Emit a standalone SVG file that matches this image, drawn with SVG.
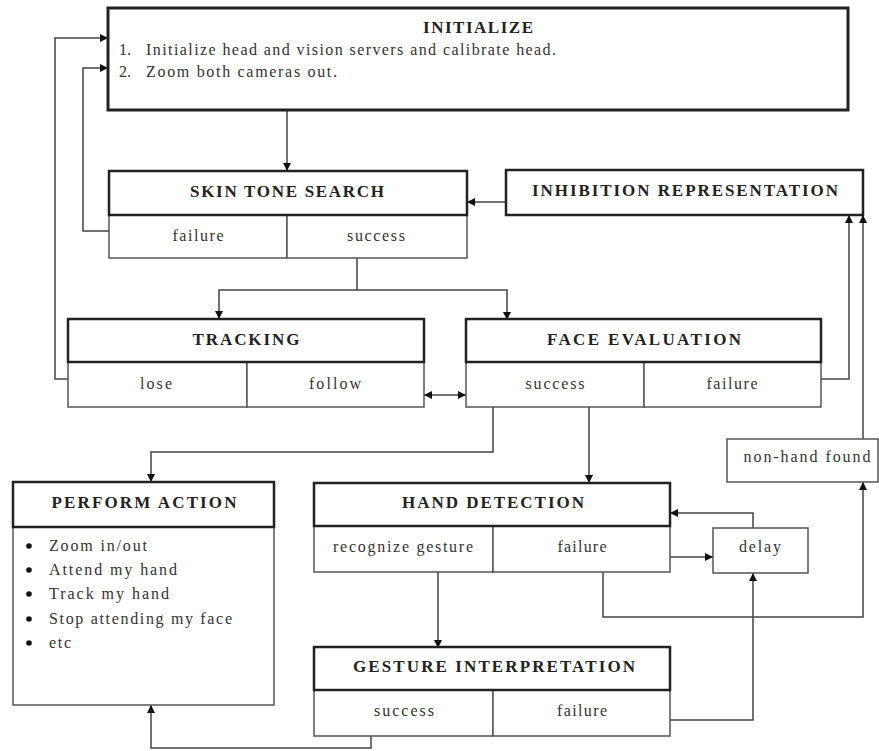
<svg xmlns="http://www.w3.org/2000/svg" width="879" height="751" viewBox="0 0 879 751">
<style>
.hdr{fill:#fff;stroke:#222;stroke-width:2.5}
.cell{fill:#fff;stroke:#555;stroke-width:1.5}
.box{fill:#fff;stroke:#555;stroke-width:1.5}
.t{font-family:"Liberation Serif","Times New Roman",serif;font-weight:bold;font-size:17px;fill:#222;text-anchor:middle}
.b{font-family:"Liberation Serif","Times New Roman",serif;font-size:16px;fill:#333;text-anchor:middle}
.l{font-family:"Liberation Serif","Times New Roman",serif;font-size:16px;fill:#333}
.c{fill:none;stroke:#444;stroke-width:1.5}
.a{marker-end:url(#ah)}
</style>
<defs>
<marker id="ah" viewBox="0 0 10 10" refX="10" refY="5" markerWidth="8" markerHeight="8" markerUnits="userSpaceOnUse" orient="auto-start-reverse">
<path d="M0,0 L10,5 L0,10 z" fill="#111"/>
</marker>
</defs>
<rect width="879" height="751" fill="#fff"/>

<g id="connectors">
<path class="c a" d="M287,110 V171"/>
<path class="c a" d="M109,231 H83 V68 H108"/>
<path class="c a" d="M68,379 H55 V38 H108"/>
<path class="c a" d="M506,202 H467"/>
<path class="c a" d="M357,258 V290 H219 V319"/>
<path class="c a" d="M357,290 H507 V320"/>
<path class="c a" d="M424,395 H466" marker-start="url(#ah)"/>
<path class="c a" d="M821,379 H849 V215"/>
<path class="c a" d="M863,439 V215"/>
<path class="c a" d="M493,407 V452 H151 V482"/>
<path class="c a" d="M589,407 V483"/>
<path class="c a" d="M670,557 H713"/>
<path class="c a" d="M753,528 V513 H670"/>
<path class="c a" d="M603,572 V617 H863 V482"/>
<path class="c a" d="M438,572 V648"/>
<path class="c a" d="M670,720 H753 V573"/>
<path class="c a" d="M371,736 V748 H151 V705"/>
</g>

<g id="initialize">
<rect x="108" y="8" width="740" height="102" fill="#fff" stroke="#222" stroke-width="3"/>
<text class="t" x="478" y="33" textLength="110" lengthAdjust="spacing">INITIALIZE</text>
<text class="l" x="119" y="55">1.</text>
<text class="l" x="146" y="55" textLength="410" lengthAdjust="spacing">Initialize head and vision servers and calibrate head.</text>
<text class="l" x="119" y="77">2.</text>
<text class="l" x="146" y="77" textLength="191" lengthAdjust="spacing">Zoom both cameras out.</text>
</g>

<g id="skin-tone-search">
<rect class="cell" x="109" y="215" width="178" height="43"/>
<rect class="cell" x="287" y="215" width="180" height="43"/>
<rect class="hdr" x="109" y="171" width="358" height="44"/>
<text class="t" x="287" y="197" textLength="194" lengthAdjust="spacing">SKIN TONE SEARCH</text>
<text class="b" x="198" y="241" textLength="51" lengthAdjust="spacing">failure</text>
<text class="b" x="376" y="241" textLength="58" lengthAdjust="spacing">success</text>
</g>

<g id="inhibition-representation">
<rect class="hdr" x="506" y="170" width="357" height="45"/>
<text class="t" x="685" y="196" textLength="306" lengthAdjust="spacing">INHIBITION REPRESENTATION</text>
</g>

<g id="tracking">
<rect class="cell" x="68" y="362" width="179" height="45"/>
<rect class="cell" x="247" y="362" width="177" height="45"/>
<rect class="hdr" x="68" y="319" width="356" height="43"/>
<text class="t" x="246" y="345" textLength="107" lengthAdjust="spacing">TRACKING</text>
<text class="b" x="156" y="389" textLength="32" lengthAdjust="spacing">lose</text>
<text class="b" x="335" y="389" textLength="52" lengthAdjust="spacing">follow</text>
</g>

<g id="face-evaluation">
<rect class="cell" x="466" y="362" width="178" height="45"/>
<rect class="cell" x="644" y="362" width="177" height="45"/>
<rect class="hdr" x="466" y="319" width="355" height="43"/>
<text class="t" x="644" y="345" textLength="194" lengthAdjust="spacing">FACE EVALUATION</text>
<text class="b" x="555" y="389" textLength="59" lengthAdjust="spacing">success</text>
<text class="b" x="732" y="389" textLength="51" lengthAdjust="spacing">failure</text>
</g>

<g id="non-hand-found">
<rect class="box" x="727" y="439" width="151" height="43"/>
<text class="b" x="807" y="462" textLength="127" lengthAdjust="spacing">non-hand found</text>
</g>

<g id="perform-action">
<rect class="cell" x="13" y="527" width="261" height="178"/>
<rect class="hdr" x="13" y="482" width="261" height="45"/>
<text class="t" x="144" y="508" textLength="185" lengthAdjust="spacing">PERFORM ACTION</text>
<g fill="#111">
<circle cx="29" cy="546" r="2.8"/>
<circle cx="29" cy="570" r="2.8"/>
<circle cx="29" cy="594" r="2.8"/>
<circle cx="29" cy="619" r="2.8"/>
<circle cx="29" cy="643" r="2.8"/>
</g>
<text class="l" x="49" y="551" textLength="98" lengthAdjust="spacing">Zoom in/out</text>
<text class="l" x="49" y="575" textLength="128" lengthAdjust="spacing">Attend my hand</text>
<text class="l" x="49" y="599" textLength="120" lengthAdjust="spacing">Track my hand</text>
<text class="l" x="49" y="624" textLength="183" lengthAdjust="spacing">Stop attending my face</text>
<text class="l" x="49" y="648" textLength="22" lengthAdjust="spacing">etc</text>
</g>

<g id="hand-detection">
<rect class="cell" x="314" y="526" width="179" height="46"/>
<rect class="cell" x="493" y="526" width="177" height="46"/>
<rect class="hdr" x="314" y="483" width="356" height="43"/>
<text class="t" x="493" y="508" textLength="182" lengthAdjust="spacing">HAND DETECTION</text>
<text class="b" x="403" y="552" textLength="140" lengthAdjust="spacing">recognize gesture</text>
<text class="b" x="582" y="552" textLength="49" lengthAdjust="spacing">failure</text>
</g>

<g id="delay">
<rect class="box" x="713" y="528" width="95" height="45"/>
<text class="b" x="760" y="552" textLength="42" lengthAdjust="spacing">delay</text>
</g>

<g id="gesture-interpretation">
<rect class="cell" x="314" y="690" width="179" height="46"/>
<rect class="cell" x="493" y="690" width="177" height="46"/>
<rect class="hdr" x="314" y="647" width="356" height="43"/>
<text class="t" x="494" y="672" textLength="282" lengthAdjust="spacing">GESTURE INTERPRETATION</text>
<text class="b" x="404" y="716" textLength="60" lengthAdjust="spacing">success</text>
<text class="b" x="582" y="716" textLength="50" lengthAdjust="spacing">failure</text>
</g>
</svg>
